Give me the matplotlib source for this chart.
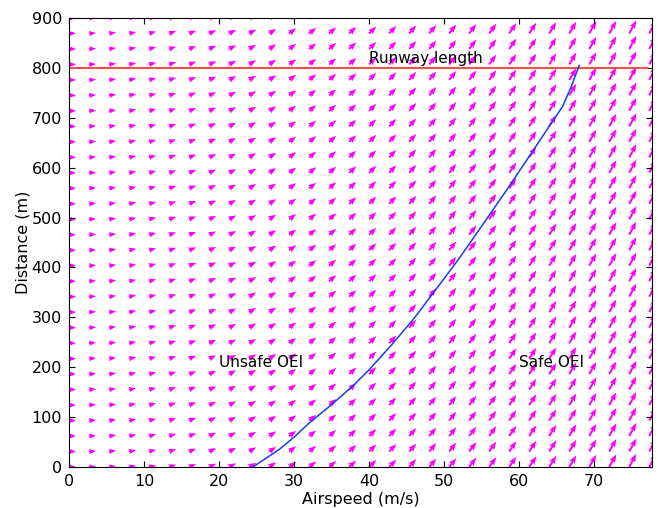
import matplotlib
matplotlib.use("Agg")
import matplotlib.pyplot as plt
import numpy as np

# grid of the direction field
speeds = np.linspace(0, 77.33, 30)      # airspeed (m/s)
distances = np.linspace(0, 900, 30)     # distance (m)
accel = 2.7                             # takeoff acceleration (m/s^2)

# decision curve
curve_speed = [24.5, 28, 30, 32, 35, 38, 40, 43, 46, 49, 52, 55, 58, 61, 64, 65.8, 67, 68]
curve_dist = [0, 35, 60, 88, 125, 165, 195, 245, 298, 358, 418, 483, 548, 615, 683, 723, 765, 805]

runway_length = 800
x_max = 77.7
y_max = 900

plt.rcParams['font.family'] = 'DejaVu Sans'
plt.rcParams['font.size'] = 11.5

fig = plt.figure(figsize=(6.58, 5.08), dpi=100)
fig.patch.set_facecolor('white')
ax = fig.add_axes([0.1049, 0.0807, 0.886, 0.8839])
ax.set_xlim(0, x_max)
ax.set_ylim(0, y_max)

#pixels per data unit, so arrows keep the data slope ds/dV = V/a
bbox = ax.get_window_extent()
ppx = bbox.width / x_max
ppy = bbox.height / y_max

X, Y = np.meshgrid(speeds, distances)
U = accel * ppx * np.ones_like(X)
V = X * ppy
ax.quiver(X, Y, U, V, color='magenta', angles='uv', scale_units='dots',
          scale=2.86, width=0.0035, headwidth=3, headlength=4,
          headaxislength=3.5, zorder=1)

ax.plot([0, 77], [runway_length, runway_length], color='#ff5050', lw=1.5, zorder=2)
ax.plot(curve_speed, curve_dist, color='#1a3cf0', lw=1.1, zorder=3)

ax.text(40, 810, 'Runway length', fontsize=11, zorder=4)
ax.text(20, 200, 'Unsafe OEI', fontsize=11, zorder=4)
ax.text(60, 200, 'Safe OEI', fontsize=11, zorder=4)

ax.set_xticks(np.arange(0, 71, 10))
ax.set_yticks(np.arange(0, 901, 100))
ax.tick_params(direction='in', top=True, right=True, length=4, pad=5)
ax.set_xlabel('Airspeed (m/s)', labelpad=2)
ax.set_ylabel('Distance (m)', labelpad=1)

fig.savefig('out.png', dpi=100)
plt.close(fig)
